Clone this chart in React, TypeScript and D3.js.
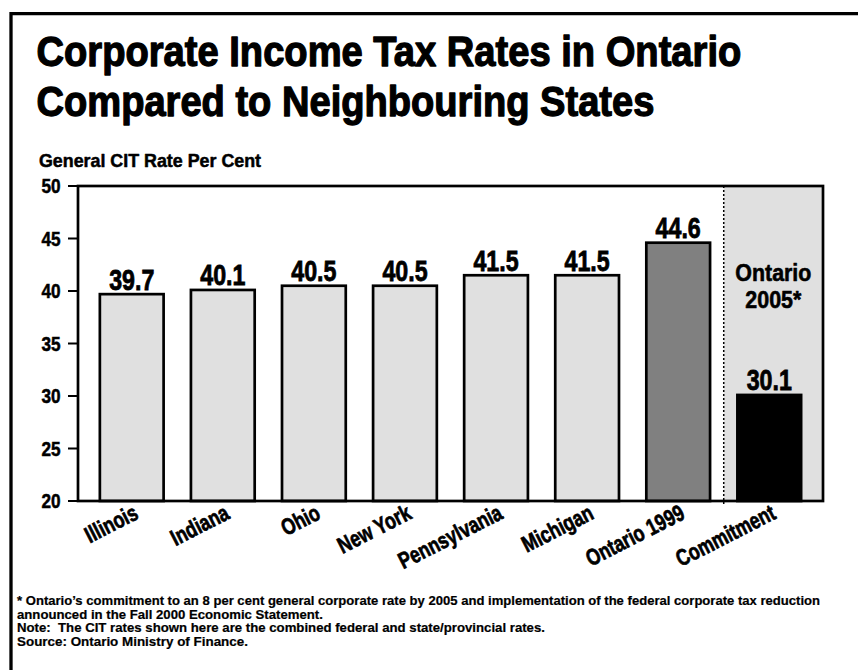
import React, { useLayoutEffect, useRef, useState } from "react";
import * as d3 from "d3";

const categories = ["Illinois", "Indiana", "Ohio", "New York", "Pennsylvania", "Michigan", "Ontario 1999", "Commitment"];
const rates = [39.7, 40.1, 40.5, 40.5, 41.5, 41.5, 44.6, 30.1];
const groups = ["state", "state", "state", "state", "state", "state", "ontario1999", "ontario2005"];
const yTicks = [20, 25, 30, 35, 40, 45, 50];
const titleLines = ["Corporate Income Tax Rates in Ontario", "Compared to Neighbouring States"];
const yAxisTitle = "General CIT Rate Per Cent";
const sectionLabel = ["Ontario", "2005*"];
const footnotes = [
  "* Ontario\u2019s commitment to an 8 per cent general corporate rate by 2005 and implementation of the federal corporate tax reduction",
  "announced in the Fall 2000 Economic Statement.",
  "Note:  The CIT rates shown here are the combined federal and state/provincial rates.",
  "Source: Ontario Ministry of Finance.",
];

const W = 858;
const H = 670;
const FONT = "'Liberation Sans', Arial, Helvetica, sans-serif";
const fillFor: Record<string, string> = { state: "#e0e0e0", ontario1999: "#808080", ontario2005: "#000000" };

function FitText(props: {
  x: number;
  y: number;
  width: number;
  fontSize: number;
  anchor?: string;
  weight?: number;
  children: string;
}) {
  const ref = useRef<SVGTextElement>(null);
  const [sx, setSx] = useState(0.82);
  useLayoutEffect(() => {
    const el = ref.current;
    if (el) {
      const len = el.getComputedTextLength();
      if (len > 0) setSx(props.width / len);
    }
  }, [props.width, props.children, props.fontSize]);
  return (
    <text
      ref={ref}
      transform={`translate(${props.x},${props.y}) scale(${sx},1)`}
      fontSize={props.fontSize}
      fontWeight="bold"
      textAnchor={props.anchor || "start"}
      stroke="#000"
      strokeWidth={props.weight || 0}
      strokeLinejoin="round"
      style={{ whiteSpace: "pre" }}
    >
      {props.children}
    </text>
  );
}

export default function App() {
  const plot = { left: 78, right: 823, top: 186, bottom: 501 };
  const x = d3.scaleBand<string>().domain(categories).range([plot.left, plot.right]).paddingInner(0.3).paddingOuter(0.24);
  const y = d3.scaleLinear().domain([20, 50]).range([plot.bottom, plot.top]);
  const step = x.step();
  const divX = (x("Commitment") as number) - (step - x.bandwidth()) / 2;
  const secCx = (divX + plot.right) / 2;

  const footW = [803, 306, 528, 231];

  return (
    <svg width={W} height={H} style={{ position: "absolute", left: 0, top: 0, background: "#fff" }} fontFamily={FONT}>
      <rect x={0} y={0} width={W} height={H} fill="#fff" />
      {/* frame */}
      <path d={`M11,${H + 5} V13.7 H${W + 5}`} fill="none" stroke="#000" strokeWidth={3.3} />
      {/* title */}
      {titleLines.map((t, i) => (
        <FitText key={i} x={36.5} y={65.5 + i * 50} width={i === 0 ? 705 : 618} fontSize={43} weight={1.3}>
          {t}
        </FitText>
      ))}
      <FitText x={39} y={167} width={222} fontSize={18} weight={0.5}>
        {yAxisTitle}
      </FitText>
      {/* shaded section */}
      <rect x={divX} y={plot.top} width={plot.right - divX} height={plot.bottom - plot.top} fill="#e0e0e0" />
      {/* bars */}
      {categories.map((c, i) => {
        const bx = x(c) as number;
        const by = y(rates[i]);
        return (
          <g key={c}>
            <rect x={bx} y={by} width={x.bandwidth()} height={plot.bottom - by} fill={fillFor[groups[i]]} stroke="#000" strokeWidth={2.7} />
            <text
              transform={`translate(${bx + x.bandwidth() / 2},${by - 4.5}) scale(0.8,1)`}
              fontSize={29}
              fontWeight="bold"
              textAnchor="middle"
              stroke="#000"
              strokeWidth={0.8}
            >
              {rates[i].toFixed(1)}
            </text>
          </g>
        );
      })}
      {/* dotted divider */}
      <line x1={divX} x2={divX} y1={plot.top} y2={plot.bottom + 3} stroke="#000" strokeWidth={1.5} strokeDasharray="2,2" />
      {/* plot frame */}
      <rect x={plot.left} y={plot.top} width={plot.right - plot.left} height={plot.bottom - plot.top} fill="none" stroke="#000" strokeWidth={2.7} />
      {/* section label */}
      <FitText x={secCx} y={281} width={76} fontSize={24} anchor="middle" weight={0.6}>
        {sectionLabel[0]}
      </FitText>
      <FitText x={secCx} y={308} width={56} fontSize={24} anchor="middle" weight={0.6}>
        {sectionLabel[1]}
      </FitText>
      {/* y axis */}
      {yTicks.map((t) => (
        <g key={t} transform={`translate(0,${y(t)})`}>
          <line x1={68} x2={plot.left} stroke="#000" strokeWidth={2} />
          <text transform="translate(60.5,7.2) scale(0.86,1)" fontSize={20} fontWeight="bold" textAnchor="end" stroke="#000" strokeWidth={0.5}>
            {t}
          </text>
        </g>
      ))}
      {/* x labels */}
      {categories.map((c) => {
        const cx = (x(c) as number) + x.bandwidth() / 2 + 8;
        return (
          <text
            key={c}
            transform={`translate(${cx},518) rotate(-27) scale(0.77,1)`}
            fontSize={23}
            fontWeight="bold"
            textAnchor="end"
            stroke="#000"
            strokeWidth={0.7}
          >
            {c}
          </text>
        );
      })}
      {/* footnotes */}
      {footnotes.map((f, i) => (
        <FitText key={i} x={17} y={605 + i * 13.5} width={footW[i]} fontSize={12} weight={0.2}>
          {f}
        </FitText>
      ))}
    </svg>
  );
}
